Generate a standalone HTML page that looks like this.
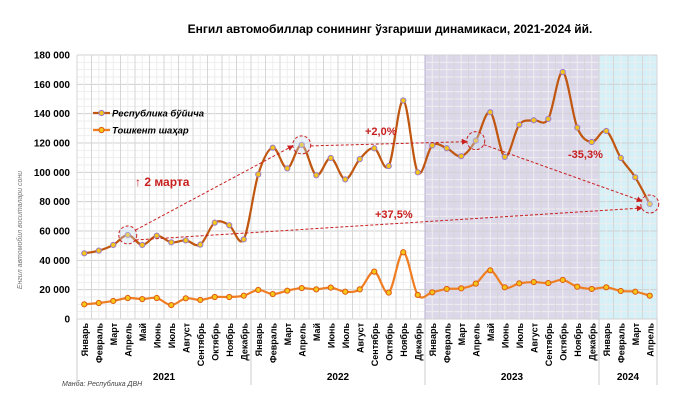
<!DOCTYPE html>
<html><head><meta charset="utf-8"><style>
body{margin:0;background:#fff;font-family:"Liberation Sans",sans-serif}
svg text{font-family:"Liberation Sans",sans-serif}
</style></head><body>
<svg id="chart" width="680" height="400" xmlns="http://www.w3.org/2000/svg">
<text x="390" y="33" text-anchor="middle" font-size="12" font-weight="bold">Енгил автомобиллар сонининг ўзгариши динамикаси, 2021-2024 йй.</text>
<text transform="translate(22,230) rotate(-90)" text-anchor="middle" font-size="7" font-style="italic" fill="#777">Енгил автомобил воситалари сони</text>
<text x="62" y="386" font-size="7" font-style="italic" fill="#444">Манба: Республика ДВН</text>
</svg>
<script>
const months=["Январь","Февраль","Март","Апрель","Май","Июнь","Июль","Август","Сентябрь","Октябрь","Ноябрь","Декабрь"];
const years=["2021","2022","2023","2024"];
const yTicks=[0,20000,40000,60000,80000,100000,120000,140000,160000,180000];
const republic=[44800,46600,50500,57300,50500,56800,52300,53600,50700,65700,63900,54300,
98600,116800,102700,118700,98000,109800,95200,109000,116400,104300,149000,100000,
118400,116400,111000,121600,141000,110500,132500,135500,136400,168400,130500,120700,
128200,109800,96600,78400];
const tashkent=[10000,10900,12300,14300,13600,14300,9500,14100,13000,15000,15000,15900,
19800,17000,19300,21100,20200,21400,18600,20200,32300,18000,45500,16400,
18200,20500,20900,24100,33200,21600,24300,25200,24500,26600,22000,20500,
21600,19100,18600,15900];
const annoLabels=["↑ 2 марта","+2,0%","-35,3%","+37,5%"];
const svg=document.getElementById('chart');const NS="http://www.w3.org/2000/svg";
const L=77,R=657,T=55,B=319,N=40,step=(R-L)/N;
const x=i=>L+step*(i+0.5), y=v=>B-(v/180000)*(B-T);
function mk(t,a,p){const e=document.createElementNS(NS,t);for(const k in a)e.setAttribute(k,a[k]);(p||svg).appendChild(e);return e;}
const g=mk('g',{});


// year backgrounds
const b23=mk('rect',{x:L+step*24,y:T,width:step*12,height:B-T,fill:'#dcd8ea'},g);


const b24=mk('rect',{x:L+step*36,y:T,width:step*4,height:B-T,fill:'#d6f0f8'},g);


// grid
for(let v=0;v<=180000;v+=5000){mk('line',{x1:L,x2:R,y1:y(v),y2:y(v),stroke:v%20000?'#eeeeee':'#d0d0d0','stroke-width':1},g);}
for(let i=0;i<=N*2;i++){mk('line',{x1:L+i*step/2,x2:L+i*step/2,y1:T,y2:B,stroke:i%2?'#eeeeee':'#d6d6d6','stroke-width':1},g);}
mk('line',{x1:L+step*24,x2:L+step*24,y1:T,y2:B,stroke:'#b8b0d0'},g);
// y ticks
yTicks.forEach(v=>{const t=mk('text',{x:70,y:y(v)+3.5,'text-anchor':'end','font-size':10,'font-weight':'bold'});t.textContent=v===0?'0':(v/1000)+' 000';

});
// x labels
for(let i=0;i<N;i++){const t=mk('text',{transform:`translate(${x(i)+3.5},${B+4}) rotate(-90)`,'text-anchor':'end','font-size':9,'font-weight':'bold'});t.textContent=months[i%12];

}
years.forEach((yr,k)=>{const s=k*12,e=Math.min(N,s+12);mk('line',{x1:L+s*step,x2:L+s*step,y1:B,y2:385,stroke:'#ccc'});
const t=mk('text',{x:L+(s+e)/2*step,y:380,'text-anchor':'middle','font-size':10,'font-weight':'bold'});t.textContent=yr;

});
mk('line',{x1:R,x2:R,y1:B,y2:385,stroke:'#ccc'});
function smooth(d){let p=d.map((v,i)=>[x(i),y(v)]);let s=`M${p[0][0]},${p[0][1]}`;
for(let i=0;i<p.length-1;i++){const p0=p[i-1]||p[i],p1=p[i],p2=p[i+1],p3=p[i+2]||p2;
s+=`C${p1[0]+(p2[0]-p0[0])/6},${p1[1]+(p2[1]-p0[1])/6} ${p2[0]-(p3[0]-p1[0])/6},${p2[1]-(p3[1]-p1[1])/6} ${p2[0]},${p2[1]}`;}return s;}
function series(d,col,mcol,name){const p=mk('path',{d:smooth(d),fill:'none',stroke:col,'stroke-width':2.2});


d.forEach((v,i)=>{const c=mk('circle',{cx:x(i),cy:y(v),r:2.6,fill:'#f5c518',stroke:mcol,'stroke-width':1});

});}
series(republic,'#c0560f','#9a7bc8','republic');
series(tashkent,'#ef7d22','#e05a10','tashkent');
// annotations
const red='#c81e1e';
[3,15,27,39].forEach(i=>{const c=mk('circle',{cx:x(i),cy:y(republic[i]),r:9,fill:'rgba(200,220,240,0.35)',stroke:red,'stroke-width':1,'stroke-dasharray':'3,2'});

});
mk('defs',{}).innerHTML=`<marker id="ah" markerWidth="6" markerHeight="6" refX="5" refY="3" orient="auto"><path d="M0,0L6,3L0,6z" fill="${red}"/></marker>`;
function arrow(x1,y1,x2,y2){const a=mk('line',{x1,y1,x2,y2,stroke:red,'stroke-width':1,'stroke-dasharray':'3,2','marker-end':'url(#ah)'});

}
arrow(x(3)+8,y(republic[3])-5,x(15)-9,y(republic[15])+1);
arrow(x(15)+9,y(republic[15])+1,x(27)-9,y(republic[27])+1);
arrow(x(27)+8,y(republic[27])+4,x(39)-8,y(republic[39])-3);
arrow(x(3)+8,y(republic[3])+5,x(39)-8,y(republic[39])+4);
const annoPos=[[135,186],[365,135],[568,158],[375,218]];
annoLabels.forEach((s,k)=>{const t=mk('text',{x:annoPos[k][0],y:annoPos[k][1],'font-size':k?11:12,'font-weight':'bold',fill:red});t.textContent=s;

});
// legend
[['Республика бўйича','#c0560f','#9a7bc8',113],['Тошкент шаҳар','#ef7d22','#e05a10',130]].forEach(l=>{
const lg=mk('g',{});


mk('line',{x1:93,x2:110,y1:l[3],y2:l[3],stroke:l[1],'stroke-width':2.2},lg);
mk('circle',{cx:101.5,cy:l[3],r:2.6,fill:'#f5c518',stroke:l[2]},lg);
const t=mk('text',{x:112,y:l[3]+3.5,'font-size':9.5,'font-weight':'bold','font-style':'italic'},lg);t.textContent=l[0];});
</script>
</body></html>
